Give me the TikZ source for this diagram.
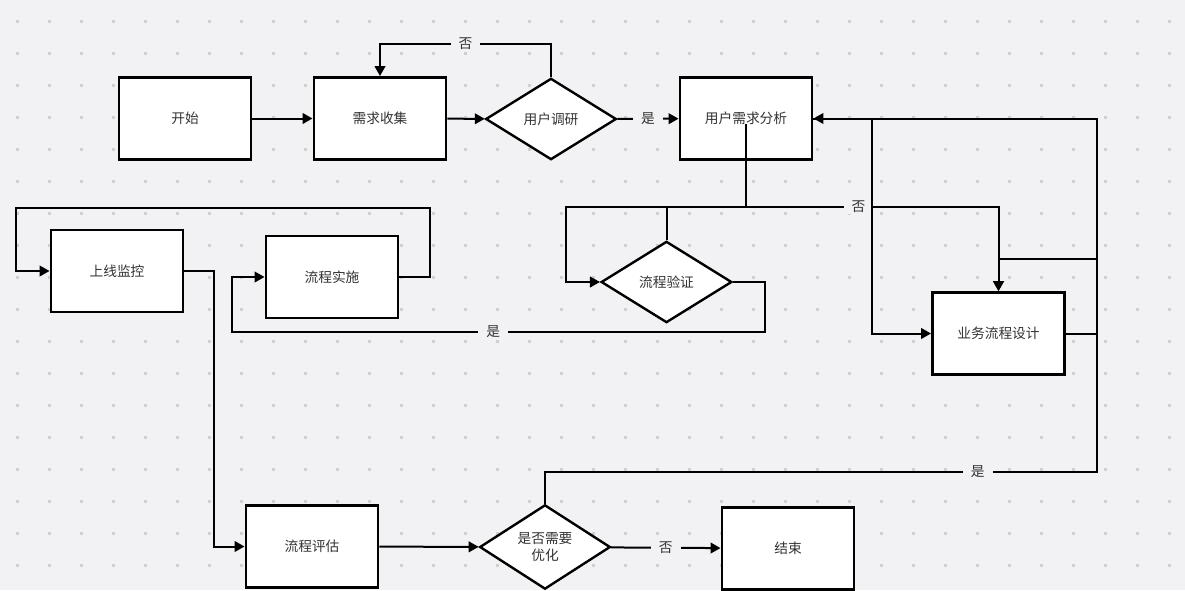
\documentclass[tikz,border=0pt]{standalone}
\usepackage{fontspec}
\setmainfont{Noto Sans CJK SC}
\usetikzlibrary{shapes.geometric, arrows.meta}
\definecolor{canvas}{HTML}{F2F2F4}
\definecolor{griddot}{HTML}{CFCFCF}
\definecolor{txtgray}{HTML}{333333}
\tikzset{
  procbox/.style={draw, line width=2.2pt, fill=white, minimum width=99pt, minimum height=61.5pt, inner sep=0pt},
  decision/.style={diamond, draw, line width=1.8pt, fill=white, minimum width=98pt, minimum height=61pt, inner sep=0pt, align=center},
  arr/.style={line width=1.5pt, -{Triangle[length=7.5pt, width=8pt]}},
  lbl/.style={fill=canvas, inner xsep=6pt, inner ysep=1pt},
}
\begin{document}
\begin{tikzpicture}[x=0.75pt, y=-0.75pt, every node/.style={font=\fontsize{10.3}{14}\selectfont, text=txtgray}]
  % Canvas and dot grid
  \fill[canvas] (0,0) rectangle (1185,590);
  \useasboundingbox (0,0) rectangle (1185,590);
  \foreach \i in {0,...,36}
    \foreach \j in {0,...,17}
      \fill[griddot] ({17+32*\i-1.5},{21+32*\j-1.5}) rectangle ++(3,3);

  % Top row
  \node[procbox] (start) at (185,118.5) {开始};
  \node[procbox] (collect) at (380,118.5) {需求收集};
  \node[decision] (survey) at (551,119) {用户调研};
  \node[procbox] (analysis) at (746,118.5) {用户需求分析};

  % Middle row
  \node[procbox] (monitor) at (117,271) {上线监控};
  \node[procbox] (implement) at (332,277) {流程实施};
  \node[decision] (verify) at (666.5,282) {流程验证};
  \node[procbox] (design) at (998.5,333.5) {业务流程设计};

  % Bottom row
  \node[procbox] (evaluate) at (312,546.5) {流程评估};
  \node[decision] (optimize) at (545,547) {是否需要\\[-1pt]优化};
  \node[procbox] (finish) at (788,548.5) {结束};

  % Connectors
  \draw[arr] (start) -- (collect);
  \draw[arr] (collect) -- (survey);
  \draw[arr] (survey.north) -- ++(0,-33) -| node[lbl, pos=0.25] {否} (collect.north);
  \draw[arr] (survey) -- node[lbl] {是} (analysis);
  \draw[arr] ([yshift=-4pt]analysis.center) -- (746,207) -| (566,282) -- (verify.west);
  \draw[arr] (verify.north) |- node[lbl, pos=0.789] {否} (998.5,207) -- (design.north);
  \draw[arr] (verify.east) -- (765,282) |- node[lbl, pos=0.755] {是} (232,332) |- (implement.west);
  \draw[arr] (implement.east) -| (430,208) -| (16,271) -- (monitor.west);
  \draw[arr] (monitor.east) -- ++(30,0) |- (evaluate.west);
  \draw[arr] (evaluate) -- (optimize);
  \draw[arr] (optimize) -- node[lbl] {否} (finish);
  \draw[arr] (optimize.north) |- node[lbl, pos=0.892] {是} (1097,472) |- (analysis.east);
  \draw[arr] (analysis.east) -| (872,333.5) -- (design.west);
  \draw[arr] (design.east) -| (1097,259) -| (design.north);
\end{tikzpicture}
\end{document}
